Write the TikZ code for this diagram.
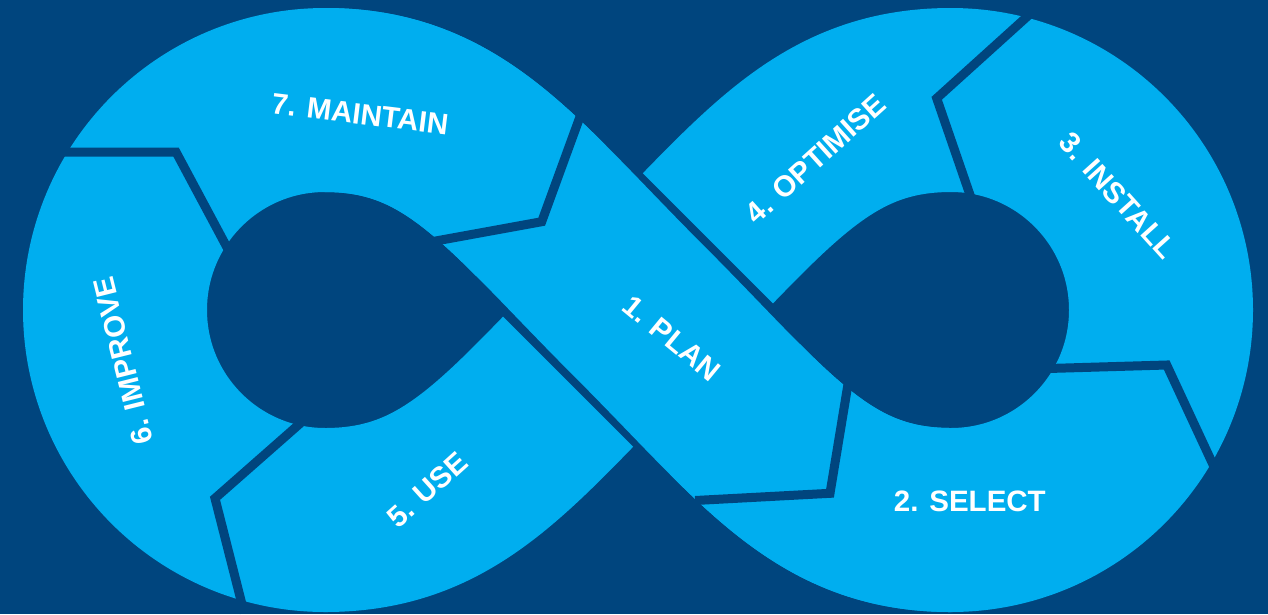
\documentclass[tikz,border=0pt]{standalone}
\usepackage{fontspec}
\setmainfont{Liberation Sans}
\definecolor{bgblue}{HTML}{00457E}
\definecolor{bandblue}{HTML}{00AEEF}
\tikzset{
  lbl/.style={text=white, font=\fontsize{29.5}{30}\selectfont\bfseries, inner sep=0pt},
  sep/.style={draw=bgblue, line width=9pt, line join=miter, line cap=butt},
  band/.style={draw=bandblue, line width=184pt, line join=round},
  bandgap/.style={draw=bgblue, line width=200pt, line cap=butt},
}
\begin{document}
\begin{tikzpicture}[x=1pt,y=-1pt]
\useasboundingbox (0,0) rectangle (1268,614);
\fill[bgblue] (0,0) rectangle (1268,614);
% centre line of the whole loop
\coordinate (C) at (638,310);
\coordinate (LT) at (325,100);
\coordinate (LB) at (325,520);
\coordinate (LL) at (115,310);
\coordinate (RT) at (951,100);
\coordinate (RB) at (951,520);
\coordinate (RR) at (1161,310);
\coordinate (G1) at (540,212);
\coordinate (G2) at (736,408);
\path[band] (LT) .. controls (455,100) and (511,183) .. (C)
  .. controls (765,437) and (821,520) .. (RB)
  .. controls (1067,520) and (1161,426) .. (RR)
  .. controls (1161,194) and (1067,100) .. (RT)
  .. controls (821,100) and (765,183) .. (C)
  .. controls (511,437) and (455,520) .. (LB)
  .. controls (209,520) and (115,426) .. (LL)
  .. controls (115,194) and (209,100) .. cycle;
% PLAN band passing over the other strand
\path[bandgap] (G1) -- (G2);
\path[band] (LT) .. controls (455,100) and (511,183) .. (C)
  .. controls (765,437) and (821,520) .. (RB);
% separators
\draw[sep] (56,152) -- (176,152) -- (230,253);
\draw[sep] (581,114) -- (541.7,221.7) -- (422,243.5);
\draw[sep] (304,420) -- (215,498.3) -- (244.2,613);
\draw[sep] (850,372) -- (830,493.3) -- (695,500.5);
\draw[sep] (1036,8.6) -- (936.7,98.3) -- (973.3,204.5);
\draw[sep] (1045,368.6) -- (1166.7,365) -- (1216,471);
% labels
\node[lbl, rotate=-39.5] (t1) at (671.7,338.3) {1. PLAN};
\node[lbl]             (t2) at (969.8,501.8) {2. SELECT};
\node[lbl, rotate=-48] (t3) at (1117.8,195.8) {3. INSTALL};
\node[lbl, rotate=42]  (t4) at (815.7,158.6) {4. OPTIMISE};
\node[lbl, rotate=42]  (t5) at (427.5,489.5) {5. USE};
\node[lbl, rotate=104] (t6) at (123.3,360.8) {6. IMPROVE};
\node[lbl, rotate=-7]  (t7) at (360,114) {7. MAINTAIN};
\end{tikzpicture}
\end{document}
